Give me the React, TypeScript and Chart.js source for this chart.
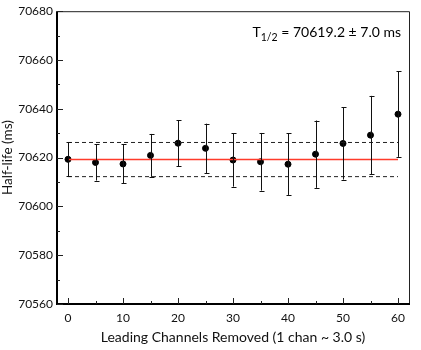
import React, { useEffect, useRef } from "react";
import { Chart, registerables } from "chart.js";

Chart.register(...registerables);

const channelsRemoved = [0, 5, 10, 15, 20, 25, 30, 35, 40, 45, 50, 55, 60];
const halfLives = [70619.3, 70618.0, 70617.4, 70620.9, 70625.9, 70623.8, 70619.0, 70618.3, 70617.3, 70621.4, 70625.8, 70629.2, 70637.8];
const halfLifeErrors = [7.0, 7.4, 8.0, 8.8, 9.5, 10.1, 10.9, 11.8, 12.6, 13.8, 14.8, 16.1, 17.5];
const meanHalfLife = 70619.2;
const meanError = 7.0;
const fitRange = [0, 60];
const xTickValues = [0, 10, 20, 30, 40, 50, 60];
const yTickValues = [70560, 70580, 70600, 70620, 70640, 70660, 70680];

const FONT = "Lato, 'DejaVu Sans', sans-serif";

const decorPlugin = {
  id: "decor",
  afterDatasetsDraw(chart: any) {
    const ctx = chart.ctx;
    const x = chart.scales.x;
    const y = chart.scales.y;
    ctx.save();
    ctx.strokeStyle = "#111";
    ctx.lineWidth = 1;
    for (let i = 0; i < channelsRemoved.length; i++) {
      const px = Math.round(x.getPixelForValue(channelsRemoved[i])) + 0.5;
      const top = y.getPixelForValue(halfLives[i] + halfLifeErrors[i]);
      const bot = y.getPixelForValue(halfLives[i] - halfLifeErrors[i]);
      ctx.beginPath();
      ctx.moveTo(px, top);
      ctx.lineTo(px, bot);
      ctx.moveTo(px - 2, Math.round(top) + 0.5);
      ctx.lineTo(px + 3, Math.round(top) + 0.5);
      ctx.moveTo(px - 2, Math.round(bot) + 0.5);
      ctx.lineTo(px + 3, Math.round(bot) + 0.5);
      ctx.stroke();
    }
    ctx.restore();
  },
  afterDraw(chart: any) {
    const ctx = chart.ctx;
    const x = chart.scales.x;
    const y = chart.scales.y;
    const a = chart.chartArea;
    ctx.save();
    ctx.strokeStyle = "#222";
    ctx.lineWidth = 1;
    ctx.beginPath();
    ctx.moveTo(a.left, a.top + 0.5);
    ctx.lineTo(a.right + 0.5, a.top + 0.5);
    ctx.lineTo(a.right + 0.5, a.bottom);
    ctx.stroke();
    ctx.strokeStyle = "#000";
    ctx.lineWidth = 2;
    ctx.beginPath();
    ctx.moveTo(a.left, a.top);
    ctx.lineTo(a.left, a.bottom);
    ctx.lineTo(a.right + 1, a.bottom);
    ctx.stroke();
    ctx.lineWidth = 1;
    ctx.strokeStyle = "#222";
    ctx.beginPath();
    for (let v = 0; v <= 60; v += 5) {
      const px = Math.round(x.getPixelForValue(v)) + 0.5;
      const len = v % 10 === 0 ? 6 : 3;
      ctx.moveTo(px, a.bottom);
      ctx.lineTo(px, a.bottom - len);
    }
    for (let v = 70560; v <= 70680; v += 10) {
      const py = Math.round(y.getPixelForValue(v)) + 0.5;
      const len = v % 20 === 0 ? 6 : 3;
      ctx.moveTo(a.left, py);
      ctx.lineTo(a.left + len, py);
    }
    ctx.stroke();
    ctx.fillStyle = "#000";
    ctx.textBaseline = "alphabetic";
    const main = "= " + meanHalfLife.toFixed(1) + " \u00b1 " + meanError.toFixed(1) + " ms";
    ctx.font = "14px " + FONT;
    const wT = ctx.measureText("T").width;
    const wMain = ctx.measureText(" " + main).width;
    ctx.font = "10.5px " + FONT;
    const wSub = ctx.measureText("1/2").width;
    const right = 401;
    const baseline = 37;
    let cx = right - wMain - wSub - wT;
    ctx.font = "14px " + FONT;
    ctx.fillText("T", cx, baseline);
    cx += wT;
    ctx.font = "10.5px " + FONT;
    ctx.fillText("1/2", cx, baseline + 4);
    cx += wSub;
    ctx.font = "14px " + FONT;
    ctx.fillText(" " + main, cx, baseline);
    ctx.restore();
  },
};

export default function App() {
  const canvasRef = useRef<HTMLCanvasElement | null>(null);

  useEffect(() => {
    if (!canvasRef.current) return;
    const points = channelsRemoved.map((c, i) => ({ x: c, y: halfLives[i] }));
    const chart = new Chart(canvasRef.current, {
      type: "scatter",
      data: {
        datasets: [
          {
            type: "line",
            data: fitRange.map((v) => ({ x: v, y: meanHalfLife + meanError })),
            borderColor: "#222",
            borderWidth: 1,
            borderDash: [4, 3],
            pointRadius: 0,
          },
          {
            type: "line",
            data: fitRange.map((v) => ({ x: v, y: meanHalfLife - meanError })),
            borderColor: "#222",
            borderWidth: 1,
            borderDash: [4, 3],
            pointRadius: 0,
          },
          {
            type: "line",
            data: fitRange.map((v) => ({ x: v, y: meanHalfLife })),
            borderColor: "#ff3b2b",
            borderWidth: 1.5,
            pointRadius: 0,
          },
          {
            data: points,
            backgroundColor: "#000",
            borderColor: "#000",
            pointRadius: 3,
            pointHoverRadius: 3,
          },
        ],
      },
      options: {
        animation: false,
        responsive: false,
        events: [],
        layout: { padding: { top: 11, right: 12, left: 0, bottom: 0 } },
        plugins: { legend: { display: false }, tooltip: { enabled: false } },
        scales: {
          x: {
            type: "linear",
            min: -2,
            max: 62,
            afterFit: (s: any) => {
              s.height = 46;
            },
            afterBuildTicks: (s: any) => {
              s.ticks = xTickValues.map((v) => ({ value: v }));
            },
            grid: { display: false, drawTicks: false },
            border: { display: false },
            ticks: {
              font: { family: FONT, size: 12 },
              color: "#111",
              padding: 7,
              maxRotation: 0,
            },
            title: {
              display: true,
              text: "Leading Channels Removed (1 chan ~ 3.0 s)",
              font: { family: FONT, size: 14 },
              color: "#111",
              padding: { top: 4, bottom: 4 },
            },
          },
          y: {
            min: 70560,
            max: 70680,
            afterFit: (s: any) => {
              s.width = 57;
            },
            afterBuildTicks: (s: any) => {
              s.ticks = yTickValues.map((v) => ({ value: v }));
            },
            grid: { display: false, drawTicks: false },
            border: { display: false },
            ticks: {
              font: { family: FONT, size: 12 },
              color: "#111",
              padding: 4,
              callback: (v: any) => String(v),
            },
            title: {
              display: true,
              text: "Half-life (ms)",
              font: { family: FONT, size: 13.5 },
              color: "#111",
              padding: { top: 0, bottom: 0 },
            },
          },
        },
      },
      plugins: [decorPlugin],
    });
    return () => chart.destroy();
  }, []);

  return (
    <div style={{ position: "fixed", left: 0, top: 0, width: 421, height: 350, background: "#fff" }}>
      <canvas ref={canvasRef} width={421} height={350} />
    </div>
  );
}
